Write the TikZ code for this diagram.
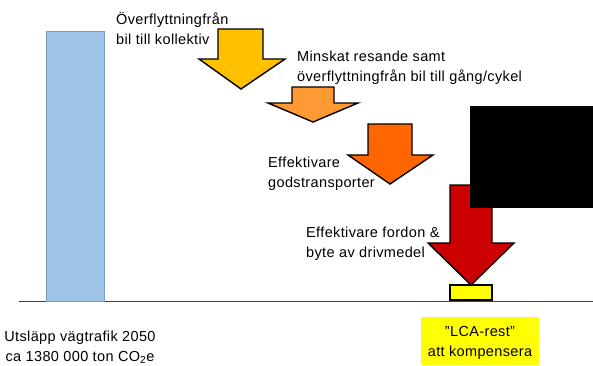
\documentclass[tikz,border=0pt]{standalone}
\usepackage{fontspec}
\setmainfont[LetterSpace=2.5]{Liberation Sans}
\definecolor{barblue}{HTML}{9DC3E6}
\definecolor{barline}{HTML}{7C9CBC}
\definecolor{arrA}{HTML}{FFC000}
\definecolor{arrB}{HTML}{FF9933}
\definecolor{arrC}{HTML}{FF6600}
\definecolor{arrD}{HTML}{CC0000}
\definecolor{lcayellow}{HTML}{FFFF00}
\begin{document}
\begin{tikzpicture}[x=1pt,y=-1pt,
  lbl/.style={inner sep=0pt,align=left,font=\fontsize{14.5}{20}\selectfont},
  lblc/.style={inner sep=0pt,align=center,font=\fontsize{14.5}{20}\selectfont},
  arrowbox/.style={draw=black,line width=1.4pt,line join=miter}]
\useasboundingbox (0,0) rectangle (593,365);
% baseline
\draw[line width=1pt,black!75] (19,301) -- (593,301);
% blue bar
\draw[barline,fill=barblue,line width=1pt] (46,31) rectangle (104,301);
% arrows
\draw[arrowbox,fill=arrA] (218,29) -- (263,29) -- (263,59) -- (285,59) -- (241,89) -- (199,59) -- (218,59) -- cycle;
\draw[arrowbox,fill=arrB] (292,87) -- (334,87) -- (334,103) -- (358,103) -- (313,122) -- (268,103) -- (292,103) -- cycle;
\draw[arrowbox,fill=arrC] (368,124) -- (412,124) -- (412,155) -- (433,155) -- (390,184) -- (348,155) -- (368,155) -- cycle;
\draw[arrowbox,fill=arrD] (450,185) -- (492,185) -- (492,243) -- (514,243) -- (471,285) -- (428,243) -- (450,243) -- cycle;
\draw[fill=lcayellow,line width=1.2pt] (450,285) rectangle (492,300);
% black box
\fill[black] (470,106) rectangle (593,208);
% labels (base anchor = last line)
\node[lbl,anchor=base west] (t1) at (116,44.5) {Överflyttningfrån\\bil till kollektiv};
\node[lbl,anchor=base west] (t2) at (297,81) {Minskat resande samt\\överflyttningfrån bil till gång/cykel};
\node[lbl,anchor=base west] (t3) at (268,187) {Effektivare\\godstransporter};
\node[lbl,anchor=base west] (t4) at (306,257.5) {Effektivare fordon \&\\byte av drivmedel};
\node[lblc,anchor=base] (t5) at (80,361.5) {Utsläpp vägtrafik 2050\\ca 1380 000 ton CO\textsubscript{2}e};
\fill[lcayellow] (421,317) rectangle (539,365);
\node[lblc,anchor=base] (t6) at (480,356.5) {”LCA-rest”\\att kompensera};
\end{tikzpicture}
\end{document}
